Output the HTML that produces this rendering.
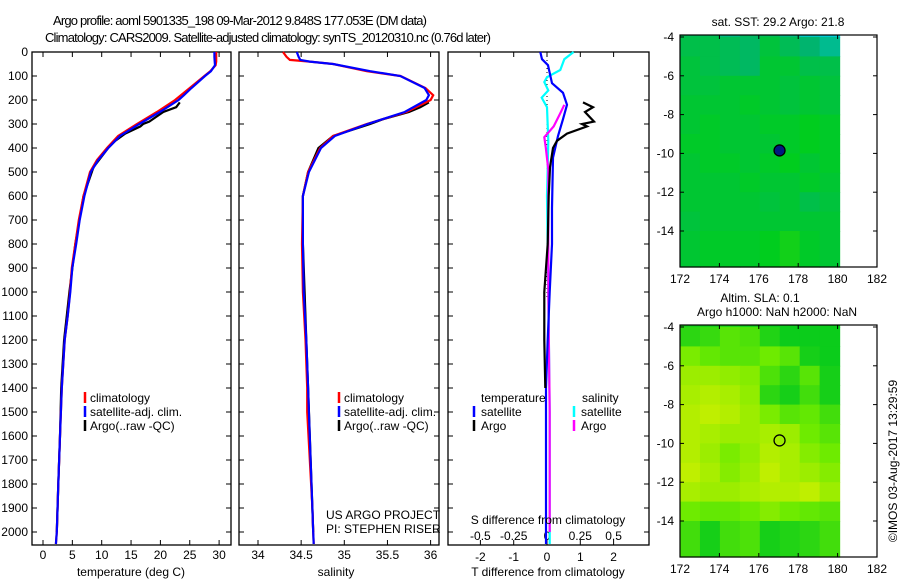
<!DOCTYPE html>
<html><head><meta charset="utf-8"><style>
html,body{margin:0;padding:0;background:#fff;}
svg{display:block;font-family:"Liberation Sans",Arial,sans-serif;}
</style></head><body>
<svg id="chart" width="900" height="580" viewBox="0 0 900 580" xmlns="http://www.w3.org/2000/svg">
<text x="240" y="25" font-size="13" text-anchor="middle" textLength="374">Argo profile: aoml 5901335_198 09-Mar-2012 9.848S 177.053E (DM data)</text>
<text x="268" y="42" font-size="13" text-anchor="middle" textLength="446">Climatology: CARS2009. Satellite-adjusted climatology: synTS_20120310.nc (0.76d later)</text>
</svg>
<script>
// ---------- DATA ----------
const climDepth=[0,20,40,55,80,100,150,180,200,250,300,350,400,450,500,600,700,800,900,1000,1100,1200,1400,1600,1800,2000,2050];
const climT=[29.5,29.5,29.5,29.4,28.5,27.5,25,23.5,22.5,19.4,16,12.8,10.9,9.2,8,6.9,6.1,5.5,4.9,4.6,4.2,3.7,3.2,2.9,2.6,2.35,2.2];
const satT=[29.2,29.2,29.25,29.3,28.6,27.6,25.3,24,23.1,19.9,16.4,13.1,11.1,9.4,8.15,7.05,6.25,5.65,5.0,4.65,4.2,3.7,3.2,2.9,2.6,2.35,2.2];
const argoTDepth=[210,230,250,290,300,310,340,370,400,480,600,800,1000,1200,1400,1600,1800,2000];
const argoT=[23.3,22.7,20.5,18.1,17.05,16.6,14.0,12.3,11.1,8.6,6.9,5.5,4.5,3.6,3.1,2.9,2.6,2.35];
const salDepth=[0,20,33,40,50,80,100,150,180,200,250,300,350,400,500,600,800,1000,1200,1400,1500,1700,1900,2000,2050];
const climS=[34.29,34.33,34.37,34.6,34.87,35.26,35.65,35.94,36.03,36.0,35.72,35.26,34.87,34.72,34.58,34.52,34.51,34.52,34.55,34.57,34.57,34.6,34.63,34.64,34.645];
const satS=[34.45,34.47,34.49,34.6,34.87,35.3,35.65,35.93,35.98,35.95,35.7,35.27,34.89,34.73,34.59,34.52,34.52,34.53,34.56,34.58,34.59,34.61,34.63,34.64,34.645];
const argoSDepth=[210,230,250,280,300,350,400,500,600,800,1000,1200,1400,1600,1800,2000];
const argoS=[35.98,35.88,35.75,35.45,35.3,34.87,34.7,34.58,34.52,34.52,34.54,34.56,34.58,34.6,34.62,34.64];
const satTDiffDepth=[0,30,55,130,170,220,280,350,440,650,800,1000,1200,1400,1600,1800,2000,2050];
const satTDiff=[-0.2,-0.15,0.03,0.15,0.48,0.6,0.48,0.33,0.18,0.15,0.15,0.08,0.02,-0.03,-0.03,-0.03,-0.03,-0.03];
const argoTDiffDepth=[210,230,250,290,300,310,340,370,400,480,600,800,1000,1200,1400];
const argoTDiff=[1.08,1.38,1.14,1.41,1.05,1.2,0.6,0.3,0.18,0.09,0.05,0.02,-0.08,-0.08,-0.05];
const satSDiffDepth=[0,30,75,105,125,160,190,230,370,600,1000,1500,2050];
const satSDiff=[0.2,0.13,0.1,0,-0.02,0.01,-0.04,0,0.01,0,0.01,0.02,0.02];
const argoSDiffDepth=[220,255,310,355,395,490,700,1000,1500,2000];
const argoSDiff=[0.13,0.1,0.05,-0.02,-0.01,0.01,0.01,0.01,0.02,0.02];
const depthTicks=[0,100,200,300,400,500,600,700,800,900,1000,1100,1200,1300,1400,1500,1600,1700,1800,1900,2000];
const tempTicks=[0,5,10,15,20,25,30];
const salTicks=[34,34.5,35,35.5,36];
const tDiffTicks=[-2,-1,0,1,2];
const sDiffTicks=[-0.5,-0.25,0,0.25,0.5];
const lonTicks=[172,174,176,178,180,182];
const latTicks=[-4,-6,-8,-10,-12,-14];
const sstGrid=[
[0.45,0.45,0.3,0.4,0.45,0.3,0.1,0.05],
[0.5,0.5,0.45,0.4,0.55,0.45,0.35,0.25],
[0.55,0.5,0.45,0.4,0.6,0.6,0.5,0.5],
[0.55,0.55,0.6,0.6,0.6,0.55,0.6,0.55],
[0.6,0.6,0.6,0.65,0.6,0.55,0.6,0.55],
[0.6,0.65,0.6,0.6,0.65,0.65,0.7,0.65],
[0.65,0.65,0.6,0.6,0.6,0.65,0.7,0.65],
[0.6,0.65,0.65,0.6,0.65,0.7,0.6,0.65],
[0.6,0.6,0.6,0.65,0.6,0.6,0.65,0.6],
[0.6,0.6,0.6,0.6,0.55,0.6,0.5,0.55],
[0.55,0.6,0.6,0.6,0.6,0.6,0.6,0.6],
[0.6,0.65,0.65,0.65,0.7,0.75,0.65,0.6]];
const slaGrid=[
[0.1,0.1,0.15,0.1,0.05,0.05,0.05,0.05],
[0.2,0.25,0.4,0.35,0.15,0.05,0.05,0.05],
[0.55,0.45,0.4,0.4,0.5,0.4,0.1,0.05],
[0.7,0.7,0.65,0.6,0.35,0.2,0.4,0.1],
[0.75,0.8,0.75,0.65,0.2,0.1,0.3,0.1],
[0.8,0.85,0.8,0.7,0.55,0.4,0.45,0.3],
[0.8,0.75,0.7,0.7,0.75,0.7,0.5,0.4],
[0.8,0.7,0.55,0.65,0.8,0.75,0.6,0.5],
[0.85,0.75,0.6,0.7,0.85,0.75,0.7,0.6],
[0.75,0.7,0.7,0.75,0.8,0.8,0.85,0.7],
[0.5,0.45,0.45,0.5,0.6,0.5,0.45,0.4],
[0.3,0.1,0.3,0.35,0.1,0.15,0.2,0.3]];
const argoLon=177.053, argoLat=-9.848;

// ---------- HELPERS ----------
const svg=document.getElementById('chart');
const NS='http://www.w3.org/2000/svg';
function el(tag,attrs,parent){const e=document.createElementNS(NS,tag);for(const k in attrs)e.setAttribute(k,attrs[k]);(parent||svg).appendChild(e);return e;}
function txt(x,y,s,size,anchor,parent){const t=el('text',{x:x,y:y,'font-size':size,'text-anchor':anchor||'middle'},parent);t.textContent=s;return t;}
const yDepth=d=>52+d*0.24;
const PY0=52,PY1=545;
function lineSeries(xs,ds,xf,color,name,w){
  const pts=xs.map((v,i)=>xf(v).toFixed(1)+','+yDepth(ds[i]).toFixed(1)).join(' ');
  const p=el('polyline',{points:pts,fill:'none',stroke:color,'stroke-width':w||2.2,'stroke-linejoin':'miter'});
  
  
  return p;
}
function frame(x0,x1,name){
  const r=el('rect',{x:x0,y:PY0,width:x1-x0,height:PY1-PY0,fill:'none',stroke:'#000','stroke-width':1.3});
  
  
  depthTicks.forEach(d=>{const y=yDepth(d);el('line',{x1:x0,x2:x0+5,y1:y,y2:y,stroke:'#000'});el('line',{x1:x1-5,x2:x1,y1:y,y2:y,stroke:'#000'});});
}
function legendBar(x,y,color){el('line',{x1:x,x2:x,y1:y-10,y2:y+1,stroke:color,'stroke-width':2.5});}

// ---------- PANEL 1: temperature ----------
const xT=v=>43+v*5.87;
frame(32,231,'temperature-panel');
depthTicks.forEach(d=>{const t=txt(28,yDepth(d)+4,String(d),12,'end');});
tempTicks.forEach(v=>{const x=xT(v);el('line',{x1:x,x2:x,y1:PY0,y2:PY0+5,stroke:'#000'});el('line',{x1:x,x2:x,y1:PY1-5,y2:PY1,stroke:'#000'});const t=txt(x,559,String(v),12);});
lineSeries(argoT,argoTDepth,xT,'#000','argo-temperature-line');
lineSeries(climT,climDepth,xT,'#f00','climatology-temperature-line');
lineSeries(satT,climDepth,xT,'#00f','satellite-temperature-line');
let at=txt(131,576,'temperature (deg C)',12);
[['climatology','#f00'],['satellite-adj. clim.','#00f'],['Argo(..raw -QC)','#000']].forEach((l,i)=>{const y=402+i*14;legendBar(85,y,l[1]);const t=txt(90,y,l[0],12,'start');});

// ---------- PANEL 2: salinity ----------
const xS=v=>258+(v-34)*86.3;
frame(239,439,'salinity-panel');
salTicks.forEach(v=>{const x=xS(v);el('line',{x1:x,x2:x,y1:PY0,y2:PY0+5,stroke:'#000'});el('line',{x1:x,x2:x,y1:PY1-5,y2:PY1,stroke:'#000'});const t=txt(x,559,String(v),12);});
lineSeries(argoS,argoSDepth,xS,'#000','argo-salinity-line');
lineSeries(climS,salDepth,xS,'#f00','climatology-salinity-line');
lineSeries(satS,salDepth,xS,'#00f','satellite-salinity-line');
let as=txt(336,576,'salinity',12);
[['climatology','#f00'],['satellite-adj. clim.','#00f'],['Argo(..raw -QC)','#000']].forEach((l,i)=>{const y=402+i*14;legendBar(339,y,l[1]);const t=txt(344,y,l[0],12,'start');});
let c1=txt(326,519,'US ARGO PROJECT',12,'start');
let c2=txt(326,533,'PI: STEPHEN RISER',12,'start');

// ---------- PANEL 3: differences ----------
const xTD=v=>547+v*33.3;
const xSD=v=>547+v*133.2;
frame(448,649,'difference-panel');
el('line',{x1:547,x2:547,y1:PY0,y2:300,stroke:'#000','stroke-dasharray':'1,3'});
tDiffTicks.forEach(v=>{const x=xTD(v);el('line',{x1:x,x2:x,y1:PY0,y2:PY0+5,stroke:'#000'});el('line',{x1:x,x2:x,y1:PY1-5,y2:PY1,stroke:'#000'});const t=txt(x,561,String(v),12);});
sDiffTicks.forEach(v=>{const t=txt(xSD(v),540,String(v),12);});
lineSeries(satSDiff,satSDiffDepth,xSD,'#0ff','satellite-salinity-diff-line');
lineSeries(argoSDiff,argoSDiffDepth,xSD,'#f0f','argo-salinity-diff-line');
lineSeries(satTDiff,satTDiffDepth,xTD,'#00f','satellite-temperature-diff-line');
lineSeries(argoTDiff,argoTDiffDepth,xTD,'#000','argo-temperature-diff-line');
let sd=txt(548,524,'S difference from climatology',12);
let td=txt(548,576,'T difference from climatology',12);
let lt=txt(481,402,'temperature',12,'start');
let ls=txt(582,402,'salinity',12,'start');
[['satellite','#00f',474,416],['Argo','#000',474,430],['satellite','#0ff',574,416],['Argo','#f0f',574,430]].forEach(l=>{legendBar(l[2],l[3],l[1]);const t=txt(l[2]+7,l[3],l[0],12,'start');});

// ---------- MAPS ----------
function lerpC(stops,v){v=Math.max(0,Math.min(1,v));for(let i=1;i<stops.length;i++){if(v<=stops[i][0]){const a=stops[i-1],b=stops[i],f=(v-a[0])/(b[0]-a[0]);return 'rgb('+[1,2,3].map(k=>Math.round(a[k]+(b[k]-a[k])*f)).join(',')+')';}}const s=stops[stops.length-1];return 'rgb('+s[1]+','+s[2]+','+s[3]+')';}
const sstStops=[[0,0,205,225],[0.35,0,180,110],[0.55,0,195,60],[0.7,0,205,30],[1,110,225,0]];
const slaStops=[[0,0,200,30],[0.5,110,235,0],[1,225,240,0]];
function drawMap(y0,grid,stops,name,filled){
  const X0=680,X1=877,Y1=y0+232;
  const xL=lon=>X0+(lon-172)*19.7;
  const yL=lat=>y0+2+(-4-lat)*19.4;
  const g=el('g',{});
  
  
  const nc=grid[0].length,nr=grid.length,cw=(180.1-172)/nc;
  grid.forEach((row,r)=>row.forEach((v,c)=>{
    const x=xL(172+c*cw);
    const top=(r===0?y0:yL(-3-r)),bot=(r===nr-1?Y1:yL(-4-r));
    const cell=el('rect',{x:x.toFixed(2),y:top.toFixed(2),width:(cw*19.7+0.6).toFixed(2),height:(bot-top+0.6).toFixed(2),fill:lerpC(stops,v)},g);
    
    
  }));
  const fr=el('rect',{x:X0,y:y0,width:X1-X0,height:Y1-y0,fill:'none',stroke:'#000','stroke-width':1.2});
  
  
  lonTicks.forEach(l=>{const x=xL(l);el('line',{x1:x,x2:x,y1:Y1,y2:Y1-4,stroke:'#000'});el('line',{x1:x,x2:x,y1:y0,y2:y0+4,stroke:'#000'});const t=txt(x,Y1+16,String(l),12);});
  latTicks.forEach(l=>{const y=yL(l);el('line',{x1:X0,x2:X0+4,y1:y,y2:y,stroke:'#000'});el('line',{x1:X1-4,x2:X1,y1:y,y2:y,stroke:'#000'});const t=txt(674,y+4,String(l),12,'end');});
  const m=el('circle',{cx:xL(argoLon),cy:yL(argoLat),r:5.5,fill:filled?'#001a80':'none',stroke:'#000','stroke-width':1.3});
  
  
}
drawMap(35,sstGrid,sstStops,'sst-map',true);
drawMap(325,slaGrid,slaStops,'sla-map',false);
let m1=txt(778,26,'sat. SST: 29.2 Argo: 21.8',12);
let m2=txt(760,302,'Altim. SLA: 0.1',12);
let m3=txt(777,316,'Argo h1000: NaN h2000: NaN',12);
let cr=txt(0,0,'©IMOS 03-Aug-2017 13:29:59',12);cr.setAttribute('transform','translate(897,461) rotate(-90)');


</script>
</body></html>
